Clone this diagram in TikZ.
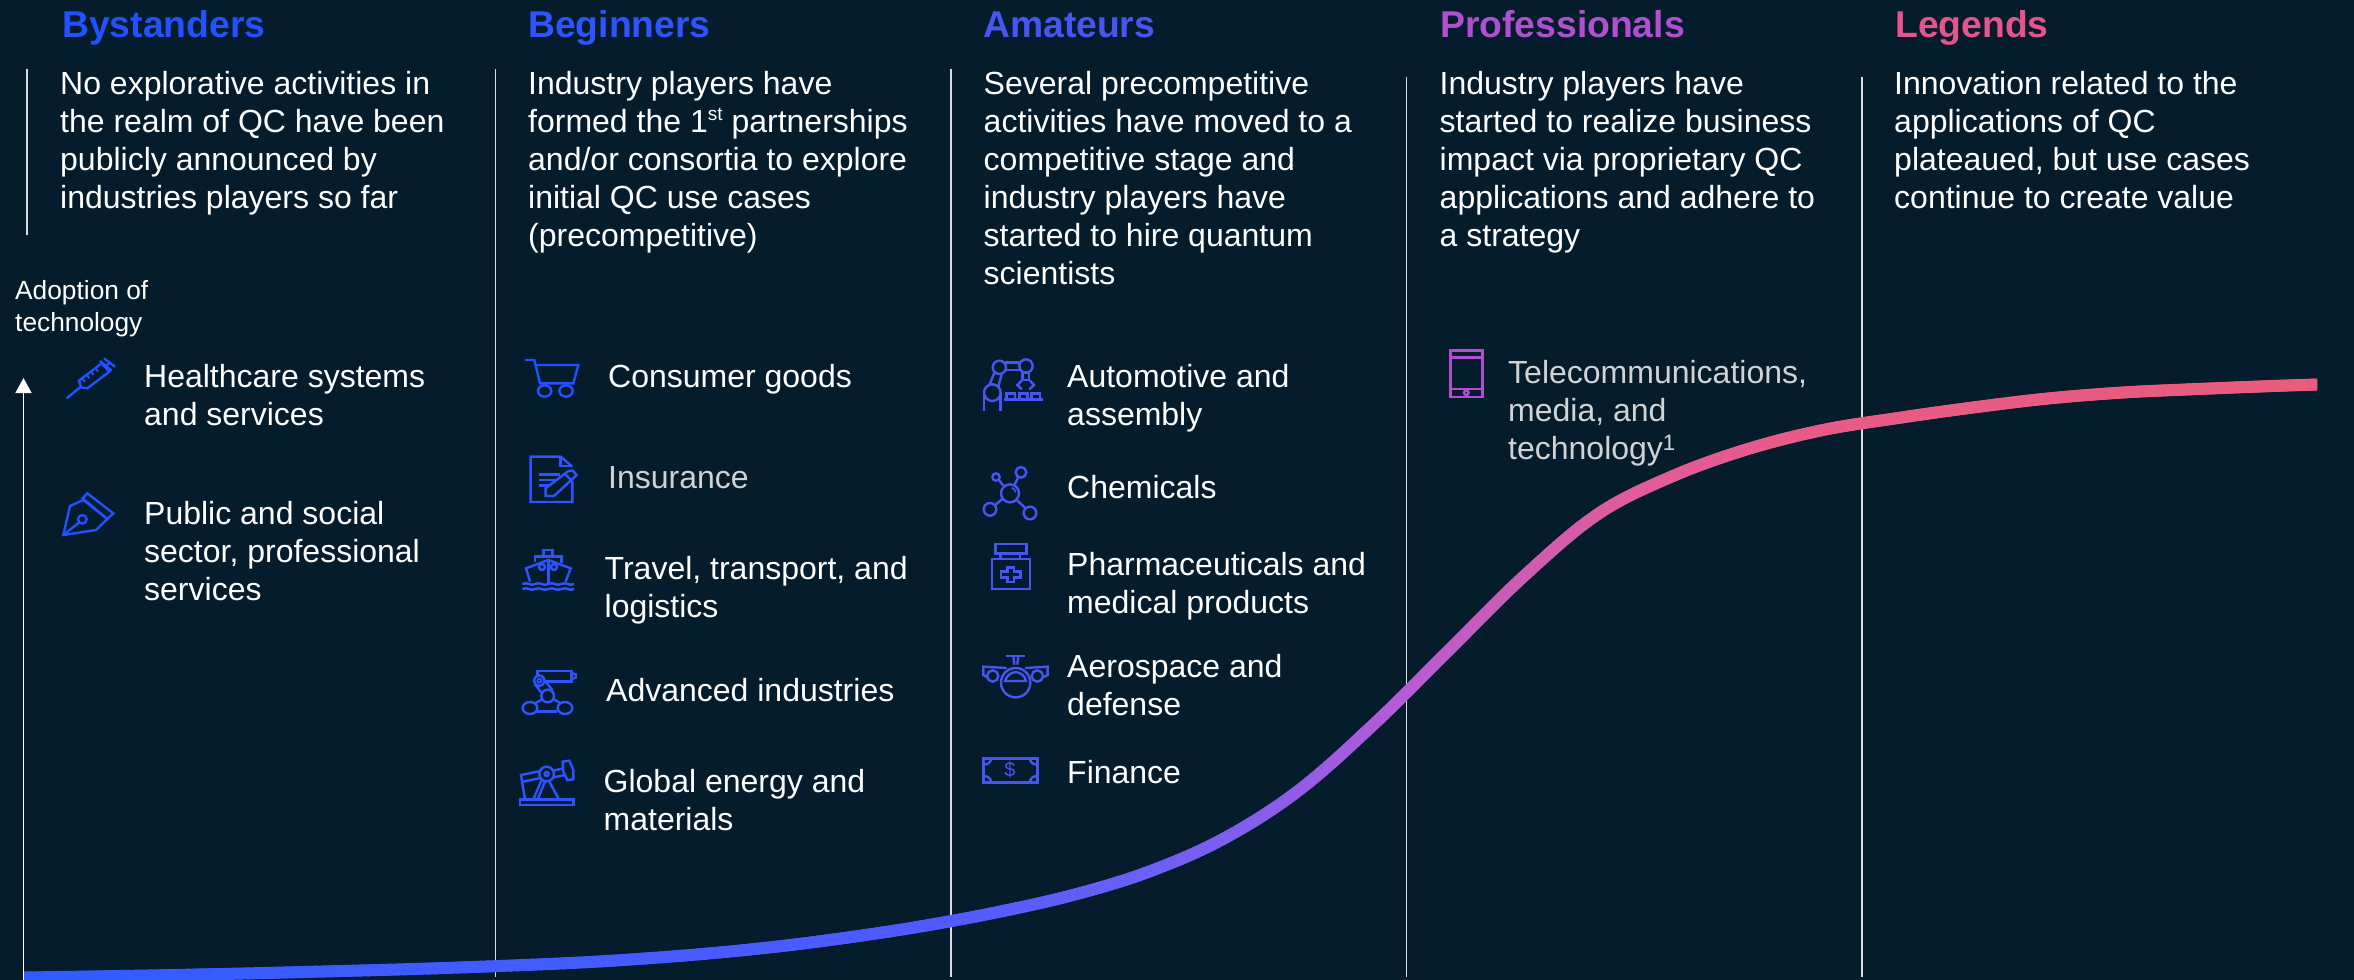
\documentclass[tikz,border=0pt]{standalone}
\usepackage{fontspec}
\setmainfont{Liberation Sans}
\usetikzlibrary{arrows.meta}
\definecolor{bgc}{HTML}{051C2C}
\definecolor{cblue}{HTML}{2251FF}
\definecolor{cbeg}{HTML}{2E54FF}
\definecolor{cama}{HTML}{4656F2}
\definecolor{cpro}{HTML}{B04FCF}
\definecolor{cleg}{HTML}{E5548C}
\definecolor{rulec}{HTML}{D8DCDF}
\definecolor{softc}{HTML}{D0D2D3}
\definecolor{g0}{HTML}{2F5CFF}
\definecolor{g1}{HTML}{4F5BFF}
\definecolor{g2}{HTML}{6A60F5}
\definecolor{g3}{HTML}{8A5CE8}
\definecolor{g4}{HTML}{B45CD5}
\definecolor{g5}{HTML}{D05CB0}
\definecolor{g6}{HTML}{E05C9C}
\definecolor{g7}{HTML}{E85A88}
\definecolor{g8}{HTML}{E85C7C}
\tikzset{
  x=1pt,y=-1pt,
  head/.style={anchor=base west,inner sep=0,font=\fontsize{37.3}{42}\selectfont\bfseries},
  bodytxt/.style={anchor=north west,inner sep=0,align=left,text=white,font=\fontsize{32}{38}\selectfont},
  softtxt/.style={bodytxt,text=softc},
  smalltxt/.style={anchor=north west,inner sep=0,align=left,text=white,font=\fontsize{26.3}{32}\selectfont},
  vrule/.style={draw=rulec,line width=1.3pt},
  icon/.style={line width=2.4pt,line join=miter,fill=none},
  zoomed/.style={scale=1/3},
}
\newcommand{\lstrut}{\rule{0pt}{26pt}}
\newcommand{\gstop}[4]{\pgfmathsetmacro\pp{(\xn-#1)/(#2-#1)*100}\colorlet{stk}{#4!\pp!#3}}
\begin{document}
\begin{tikzpicture}
\path[use as bounding box,fill=bgc] (0,0) rectangle (2354,980);

% column rules
\coordinate (r0a) at (27,69); \coordinate (r0b) at (27,235);
\coordinate (r1a) at (495.5,69); \coordinate (r1b) at (495.5,977);
\coordinate (r2a) at (951,69); \coordinate (r2b) at (951,977);
\coordinate (r3a) at (1406.5,77); \coordinate (r3b) at (1406.5,977);
\coordinate (r4a) at (1862,77); \coordinate (r4b) at (1862,977);
\draw[vrule] (r0a)--(r0b);
\draw[vrule] (r1a)--(r1b);
\draw[vrule] (r2a)--(r2b);
\draw[vrule] (r3a)--(r3b);
\draw[vrule] (r4a)--(r4b);

% curve: Catmull-Rom spline on evenly spaced x, coloured by x
\begin{scope}
\clip (23,0) rectangle (2317,980);
\foreach \xa/\ya/\xb/\yb/\xc/\yc/\xd/\yd in {
 -127/979/23/977.5/173/975/323/971.5,
 23/977.5/173/975/323/971.5/473/967,
 173/975/323/971.5/473/967/623/960,
 323/971.5/473/967/623/960/773/947,
 473/967/623/960/773/947/923/926,
 698/954/773/947/848/937.5/923/926,
 773/947/848/937.5/923/926/998/912,
 848/937.5/923/926/998/912/1073/895,
 923/926/998/912/1073/895/1148/872,
 998/912/1073/895/1148/872/1223/839,
 1073/895/1148/872/1223/839/1298/791,
 1148/872/1223/839/1298/791/1373/725,
 1223/839/1298/791/1373/725/1448/651,
 1298/791/1373/725/1448/651/1523/577,
 1373/725/1448/651/1523/577/1598/514,
 1448/651/1523/577/1598/514/1673/476,
 1523/577/1598/514/1673/476/1748/449,
 1598/514/1673/476/1748/449/1823/430,
 1673/476/1748/449/1823/430/1898/418,
 1748/449/1823/430/1898/418/1973/407.5,
 1823/430/1898/418/1973/407.5/2048/398.5,
 1898/418/1973/407.5/2048/398.5/2123/392.5,
 1973/407.5/2048/398.5/2123/392.5/2198/389,
 2048/398.5/2123/392.5/2198/389/2273/386,
 2123/392.5/2198/389/2273/386/2348/383.5,
 2198/389/2273/386/2348/383.5/2423/381}{
  \foreach \kk in {1,...,20}{
    \pgfmathsetmacro\tt{\kk/20}
    \pgfmathsetmacro\xn{\xb+(\xc-\xb)*\tt}
    \pgfmathsetmacro\yn{0.5*(2*\yb+(\yc-\ya)*\tt+(2*\ya-5*\yb+4*\yc-\yd)*\tt*\tt+(3*\yb-\ya-3*\yc+\yd)*\tt*\tt*\tt)}
    \pgfmathsetmacro\tp{(\kk-1)/20}
    \pgfmathsetmacro\xo{\xb+(\xc-\xb)*\tp}
    \pgfmathsetmacro\yo{0.5*(2*\yb+(\yc-\ya)*\tp+(2*\ya-5*\yb+4*\yc-\yd)*\tp*\tp+(3*\yb-\ya-3*\yc+\yd)*\tp*\tp*\tp)}
    \ifdim\xn pt<950pt \gstop{0}{950}{g0}{g1}%
    \else\ifdim\xn pt<1150pt \gstop{950}{1150}{g1}{g2}%
    \else\ifdim\xn pt<1280pt \gstop{1150}{1280}{g2}{g3}%
    \else\ifdim\xn pt<1400pt \gstop{1280}{1400}{g3}{g4}%
    \else\ifdim\xn pt<1545pt \gstop{1400}{1545}{g4}{g5}%
    \else\ifdim\xn pt<1640pt \gstop{1545}{1640}{g5}{g6}%
    \else\ifdim\xn pt<1800pt \gstop{1640}{1800}{g6}{g7}%
    \else\ifdim\xn pt<2300pt \gstop{1800}{2300}{g7}{g8}%
    \else \colorlet{stk}{g8}%
    \fi\fi\fi\fi\fi\fi\fi\fi
    \draw[stk,line width=12pt,line cap=round] (\xo,\yo)--(\xn,\yn);
  }
}
\end{scope}

% axis
\coordinate (axa) at (23.5,980); \coordinate (axb) at (23.5,378);
\draw[draw=white,line width=1.6pt,-{Triangle[width=16pt,length=15pt]}] (axa)--(axb);
\node[smalltxt] (axl) at (15,273) {\lstrut Adoption of\\technology};

% headers
\node[head,text=cblue] (h0) at (62,37) {Bystanders};
\node[head,text=cbeg] (h1) at (528,37) {Beginners};
\node[head,text=cama] (h2) at (983,37) {Amateurs};
\node[head,text=cpro] (h3) at (1440,37) {Professionals};
\node[head,text=cleg] (h4) at (1895,37) {Legends};

% descriptions
\node[bodytxt] (d0) at (60,68) {\lstrut No explorative activities in\\the realm of QC have been\\publicly announced by\\industries players so far};
\node[bodytxt] (d1) at (528,68) {\lstrut Industry players have\\formed the 1\raisebox{12pt}{\fontsize{19}{19}\selectfont st} partnerships\\and/or consortia to explore\\initial QC use cases\\(precompetitive)};
\node[bodytxt] (d2) at (983.5,68) {\lstrut Several precompetitive\\activities have moved to a\\competitive stage and\\industry players have\\started to hire quantum\\scientists};
\node[bodytxt] (d3) at (1439.5,68) {\lstrut Industry players have\\started to realize business\\impact via proprietary QC\\applications and adhere to\\a strategy};
\node[bodytxt] (d4) at (1894,68) {\lstrut Innovation related to the\\applications of QC\\plateaued, but use cases\\continue to create value};

% sectors
\node[bodytxt] (s1) at (144,361) {\lstrut Healthcare systems\\and services};
\node[bodytxt] (s2) at (144,498) {\lstrut Public and social\\sector, professional\\services};
\node[bodytxt] (s3) at (608,361) {\lstrut Consumer goods};
\node[softtxt] (s4) at (608,462) {\lstrut Insurance};
\node[bodytxt] (s5) at (604.5,553) {\lstrut Travel, transport, and\\logistics};
\node[bodytxt] (s6) at (606,675) {\lstrut Advanced industries};
\node[bodytxt] (s7) at (603.5,766) {\lstrut Global energy and\\materials};
\node[bodytxt] (s8) at (1067,361) {\lstrut Automotive and\\assembly};
\node[bodytxt] (s9) at (1067,472) {\lstrut Chemicals};
\node[bodytxt] (s10) at (1067,549) {\lstrut Pharmaceuticals and\\medical products};
\node[bodytxt] (s11) at (1067,651) {\lstrut Aerospace and\\defense};
\node[bodytxt] (s12) at (1067,757) {\lstrut Finance};
\node[softtxt] (s13) at (1508,357) {\lstrut Telecommunications,\\media, and\\technology\textsuperscript{1}};

% --- icons, drawn in 3x crop coordinates
\begin{scope}[shift={(0,330)},zoomed,icon,draw=cblue]
  \draw (200,205)--(240,172);
  \draw (237,152)--(305,100)--(328,125)--(262,175)--(243,172)--cycle;
  \draw[line width=1.8pt] (248,147)--(255,156) (262,136)--(268,145) (275,126)--(281,135) (288,116)--(294,125);
  \draw (313,112)--(330,97);
  \draw (312,85)--(345,110) (300,93)--(335,122);
\end{scope}
\begin{scope}[shift={(0,330)},zoomed,icon,draw=cblue]
  \draw (190,615)--(210,528)--(250,510)--(322,567)--(288,600)--cycle;
  \draw (262,490)--(340,550)--(322,567)--(248,505)--cycle;
  \draw (247,568) circle (13);
  \draw (190,615)--(238,577);
\end{scope}
% cart
\begin{scope}[shift={(500,340)},zoomed,icon,draw=cblue]
  \draw (75,60)--(103,60)--(120,130)--(220,130)--(235,75)--(107,75);
  \draw (134,153) ellipse (20 and 17);
  \draw (198,153) ellipse (20 and 17);
\end{scope}
% document
\begin{scope}[shift={(500,340)},zoomed,icon,draw=cbeg]
  \draw (217,380)--(182,350)--(92,350)--(92,486)--(217,486)--(217,425);
  \draw (182,350)--(182,378)--(217,378);
  \draw (117,403)--(180,403) (117,420)--(165,420) (117,437)--(150,437);
  \draw (137,468)--(137,445)--(205,393)--(218,392)--(230,405)--(162,468)--cycle;
  \draw (195,402)--(218,425);
\end{scope}
% ship
\begin{scope}[shift={(500,340)},zoomed,icon,draw=cbeg]
  \draw (130,648)--(130,630)--(158,630)--(158,648);
  \draw (105,665)--(105,650)--(185,650)--(185,668);
  \draw (90,725)--(78,685)--(145,660)--(212,685)--(197,725);
  \draw (145,660)--(145,730);
  \draw (126,681) circle (9);
  \draw (162,681) circle (9);
  \foreach \yy in {732,747}{
    \draw (67,\yy) .. controls (85,\yy-8) and (90,\yy+8) .. (106,\yy) .. controls (122,\yy-8) and (128,\yy+8) .. (145,\yy) .. controls (162,\yy-8) and (168,\yy+8) .. (184,\yy) .. controls (200,\yy-8) and (206,\yy+8) .. (222,\yy);
  }
\end{scope}
% robot
\begin{scope}[shift={(500,640)},zoomed,icon,draw=cbeg]
  \draw (112,108)--(112,93)--(215,93)--(215,124)--(135,124);
  \draw (215,100)--(228,103)--(228,112)--(215,118);
  \draw (118,122) circle (16);
  \draw[line width=1.8pt] (118,122) circle (6);
  \draw (104,132)--(126,160) (135,122)--(158,152);
  \draw (143,168) circle (19);
  \draw (90,204) ellipse (22 and 18);
  \draw (195,204) ellipse (22 and 18);
  \draw (112,214)--(172,214);
  \draw (105,190)--(127,178) (162,178)--(182,190);
\end{scope}
% pump
\begin{scope}[shift={(500,640)},zoomed,icon,draw=cbeg]
  \draw (60,478) rectangle (220,495);
  \draw (118,394)--(63,405)--(75,478);
  \draw (68,425)--(118,415);
  \draw (140,402) circle (22);
  \draw (140,402) circle (6);
  \draw (160,392)--(190,385) (160,412)--(196,405);
  \draw (188,365)--(208,362)--(220,390)--(220,418)--(202,420)--(190,395)--cycle;
  \draw (124,422)--(100,478) (135,425)--(113,478) (148,425)--(177,478);
\end{scope}
% automotive
\begin{scope}[shift={(960,340)},zoomed,icon,draw=cama]
  \draw (118,82) circle (20);
  \draw (198,78) circle (20);
  \draw (136,67)--(180,67) (137,90)--(180,90);
  \draw (103,99)--(88,135) (125,102)--(115,140);
  \draw (97,158) circle (25);
  \draw (72,150)--(72,212) (122,160)--(122,212);
  \draw (187,98) rectangle (207,120);
  \draw (185,122)--(172,135)--(185,148) (210,122)--(222,135)--(208,148);
  \draw (133,178)--(250,178);
  \draw (140,178)--(140,160)--(165,160)--(165,178);
  \draw (178,178)--(178,160)--(203,160)--(203,178);
  \draw (215,178)--(215,160)--(240,160)--(240,178);
\end{scope}
% chemicals
\begin{scope}[shift={(960,340)},zoomed,icon,draw=cama]
  \draw (150,460) circle (27);
  \draw (183,397) circle (16);
  \draw (108,411) circle (11);
  \draw (90,508) circle (19);
  \draw (210,519) circle (19);
  \draw (163,435)--(175,411) (117,420)--(130,437) (103,497)--(127,477) (170,480)--(197,505);
  \draw[line width=1.5pt] (155,443) .. controls (162,445) and (166,450) .. (167,457);
\end{scope}
% pharma
\begin{scope}[shift={(960,340)},zoomed,icon,draw=cama]
  \draw (106,612) rectangle (200,640);
  \draw (122,640)--(122,657) (180,640)--(180,657);
  \draw (96,657) rectangle (210,747);
  \draw (142,682)--(162,682)--(162,695)--(182,695)--(182,713)--(162,713)--(162,726)--(142,726)--(142,713)--(123,713)--(123,695)--(142,695)--cycle;
\end{scope}
% plane
\begin{scope}[shift={(960,600)},zoomed,icon,draw=cama]
  \draw (138,168)--(196,168);
  \draw (160,168)--(163,194) (175,168)--(172,194);
  \draw (167,248) circle (44);
  \draw (140,204)--(70,200)--(70,225)--(82,232);
  \draw (195,204)--(263,200)--(263,225)--(250,232);
  \draw (98,228) circle (17);
  \draw (232,228) circle (17);
  \draw (135,243) .. controls (140,228) and (150,218) .. (167,216) .. controls (183,218) and (195,228) .. (198,243) -- cycle;
\end{scope}
% bill
\begin{scope}[shift={(960,600)},zoomed,icon,draw=cama]
  \draw (71,475) rectangle (232,547);
  \draw (71,494) .. controls (85,494) and (93,486) .. (93,475);
  \draw (232,494) .. controls (218,494) and (210,486) .. (210,475);
  \draw (71,528) .. controls (85,528) and (93,536) .. (93,547);
  \draw (232,528) .. controls (218,528) and (210,536) .. (210,547);
\end{scope}
\node[inner sep=0,text=cama,font=\fontsize{20}{20}\selectfont] (dollar) at (1010,770) {\$};
% tablet
\begin{scope}[shift={(1420,330)},zoomed,icon,draw=cpro]
  \draw (92,62) rectangle (187,201);
  \draw (92,82)--(187,82) (92,177)--(187,177);
  \draw (139,188) circle (7);
\end{scope}
\end{tikzpicture}
\end{document}
